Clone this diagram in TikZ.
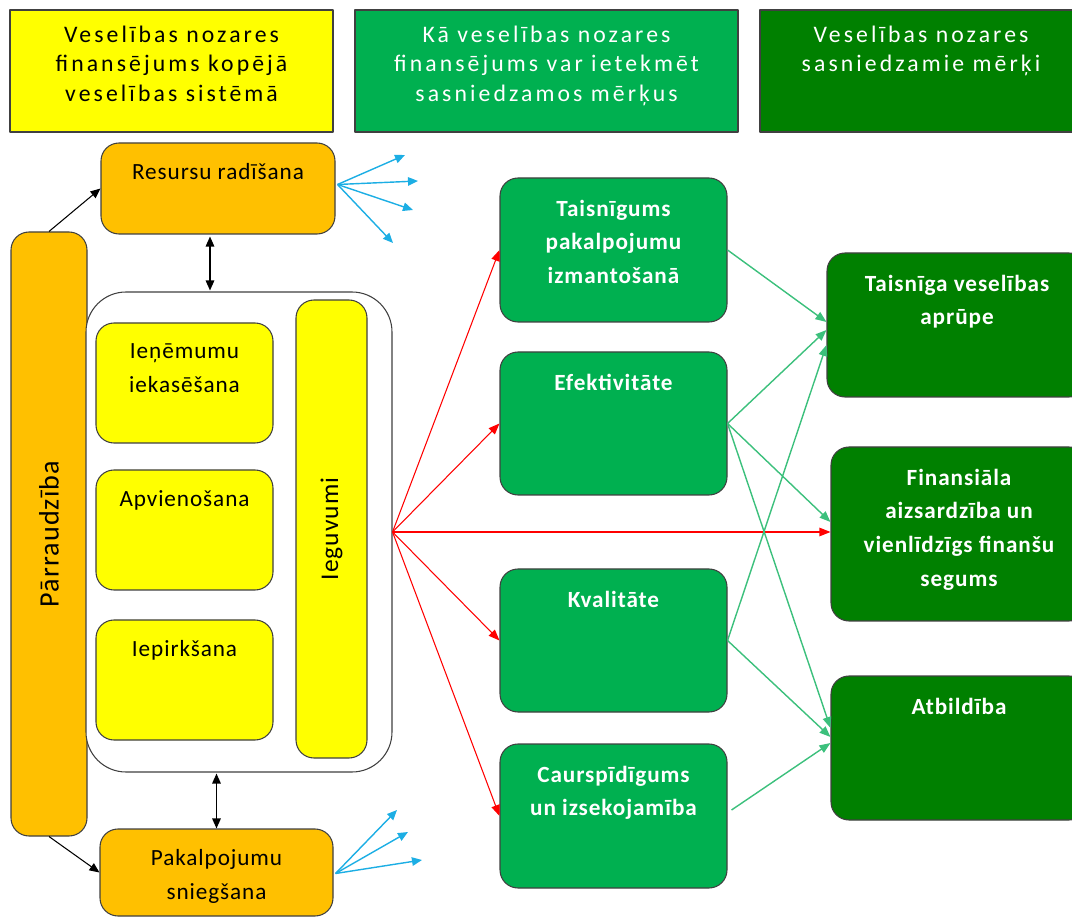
\documentclass[tikz,border=0pt]{standalone}
\usepackage{fontspec}
\setmainfont{Carlito}
\newfontfamily\hdfont[LetterSpace=13]{Carlito}
\newfontfamily\bxfont[LetterSpace=4]{Carlito}
\usetikzlibrary{arrows.meta,calc,fit}
\definecolor{oranzs}{HTML}{FFC000}
\definecolor{dzeltens}{HTML}{FFFF00}
\definecolor{zalsgais}{HTML}{00B050}
\definecolor{zalstums}{HTML}{008000}
\definecolor{sarkans}{HTML}{FF0000}
\definecolor{zils}{HTML}{1CAEE4}
\definecolor{zalslin}{HTML}{3CC07C}
\begin{document}
\begin{tikzpicture}[x=0.02cm, y=-0.02cm, line join=round,
		galva/.style={draw=black!75, line width=0.6pt, inner sep=0pt},
		kaste/.style={draw=black!75, line width=0.6pt, rounded corners=0.36cm, inner sep=0pt},
		hd/.style 2 args={label={[font=\hdfont\fontsize{13.5}{16.9}\selectfont, text=#1, align=center, inner sep=0pt, anchor=north, yshift=-0.32cm]north:{#2}}},
		tx/.style={label={[font=\bxfont\fontsize{13.2}{19.2}\selectfont, align=center, inner sep=0pt, anchor=north, yshift=-0.42cm]north:{#1}}},
		txb/.style={label={[font=\bxfont\bfseries\fontsize{13.2}{19.2}\selectfont, text=white, align=center, inner sep=0pt, anchor=north, yshift=-0.44cm]north:{#1}}},
		rot/.style 2 args={label={[font=\bxfont\fontsize{#1}{16}\selectfont, rotate=90, inner sep=0pt]center:{#2}}},
		melna/.style={-{Triangle[length=0.2cm, width=0.17cm]}, line width=0.6pt},
		abpus/.style={{Triangle[length=0.2cm, width=0.17cm]}-{Triangle[length=0.2cm, width=0.17cm]}, line width=0.8pt},
		zila/.style={zils, -{Triangle[length=0.2cm, width=0.17cm]}, line width=0.8pt},
		sarkana/.style={sarkans, -{Triangle[length=0.22cm, width=0.17cm]}, line width=0.6pt},
		zala/.style={zalslin, -{Triangle[length=0.22cm, width=0.17cm]}, line width=0.8pt}]
	\useasboundingbox (0,0) rectangle (1072,918);
	% virsraksti
	\node[galva, fill=dzeltens, fit={(10,10) (333,132)}, hd={black}{Veselības nozares\\finansējums kopējā\\veselības sistēmā}] (h1) {};
	\node[galva, fill=zalsgais, fit={(355,10) (738,132)}, hd={white}{Kā veselības nozares\\finansējums var ietekmēt\\sasniedzamos mērķus}] (h2) {};
	\node[galva, fill=zalstums, fit={(760,10) (1082,132)}, hd={white}{Veselības nozares\\sasniedzamie mērķi}] (h3) {};
	% kreisā puse
	\node[kaste, fill=oranzs, fit={(101,143) (335,234)}, tx={Resursu radīšana}] (res) {};
	\node[kaste, fill=oranzs, fit={(11,232) (87,836)}, rot={16}{Pārraudzība}] (par) {};
	\node[kaste, fill=oranzs, fit={(100,829) (333,916)}, tx={Pakalpojumu\\sniegšana}] (sni) {};
	\node[kaste, fill=white, rounded corners=0.8cm, fit={(86,292) (392,772)}] (big) {};
	\node[kaste, fill=dzeltens, fit={(96,323) (273,443)}, tx={Ieņēmumu\\iekasēšana}] (ien) {};
	\node[kaste, fill=dzeltens, fit={(96,470) (273,590)}, tx={Apvienošana}] (apv) {};
	\node[kaste, fill=dzeltens, fit={(96,620) (273,740)}, tx={Iepirkšana}] (iep) {};
	\node[kaste, fill=dzeltens, fit={(296,300) (367,758)}, rot={14.5}{Ieguvumi}] (ieg) {};
	% vidus
	\node[kaste, fill=zalsgais, fit={(500,178) (727,322)}, txb={Taisnīgums\\pakalpojumu\\izmantošanā}] (tai) {};
	\node[kaste, fill=zalsgais, fit={(500,352) (727,495)}, txb={Efektivitāte}] (efe) {};
	\node[kaste, fill=zalsgais, fit={(500,569) (727,712)}, txb={Kvalitāte}] (kva) {};
	\node[kaste, fill=zalsgais, fit={(500,744) (727,888)}, txb={Caurspīdīgums\\un izsekojamība}] (cau) {};
	% labā puse
	\node[kaste, fill=zalstums, fit={(827,253) (1087,397)}, txb={Taisnīga veselības\\aprūpe}] (tv) {};
	\node[kaste, fill=zalstums, fit={(831,447) (1087,621)}, txb={Finansiāla\\aizsardzība un\\vienlīdzīgs finanšu\\segums}] (fin) {};
	\node[kaste, fill=zalstums, fit={(831,676) (1087,820)}, txb={Atbildība}] (atb) {};
	% brīvie gali
	\coordinate (z1) at (405,155);
	\coordinate (z2) at (418,181);
	\coordinate (z3) at (413,210);
	\coordinate (z4) at (393,243);
	\coordinate (s1) at (397,810);
	\coordinate (s2) at (408,832);
	\coordinate (s3) at (422,860);
	% bultas
	\draw[melna] (par.north) -- (res.west);
	\draw[melna] (par.south) -- (sni.west);
	\draw[abpus] ($(res.south)+(-8,2)$) -- ($(res.south |- big.north)+(-8,-1)$);
	\draw[abpus] ($(sni.north |- big.south)+(0,1)$) -- (sni.north);
	\foreach \z in {z1,z2,z3,z4} \draw[zila] ($(res.east)+(2,-4)$) -- (\z);
	\foreach \s in {s1,s2,s3} \draw[zila] ($(sni.east)+(2,1)$) -- (\s);
	\foreach \m in {tai,efe,kva,cau} \draw[sarkana] (big.east) -- (\m.west);
	\draw[sarkana] (big.east) -- ($(fin.west)+(0,-2)$);
	\draw[zala] (tai.east) -- ($(tv.west)+(0,-3)$);
	\draw[zala] (efe.east) -- ($(tv.west)+(0,5)$);
	\draw[zala] (kva.east) -- ($(tv.west)+(0,20)$);
	\draw[zala] (efe.east) -- ($(fin.west)+(0,-12)$);
	\draw[zala] (efe.east) -- ($(atb.west)+(0,-20)$);
	\draw[zala] (kva.east) -- ($(atb.west)+(0,-11)$);
	\draw[zala] ($(cau.east)+(4,-6)$) -- ($(atb.west)+(0,-5)$);
\end{tikzpicture}
\end{document}
